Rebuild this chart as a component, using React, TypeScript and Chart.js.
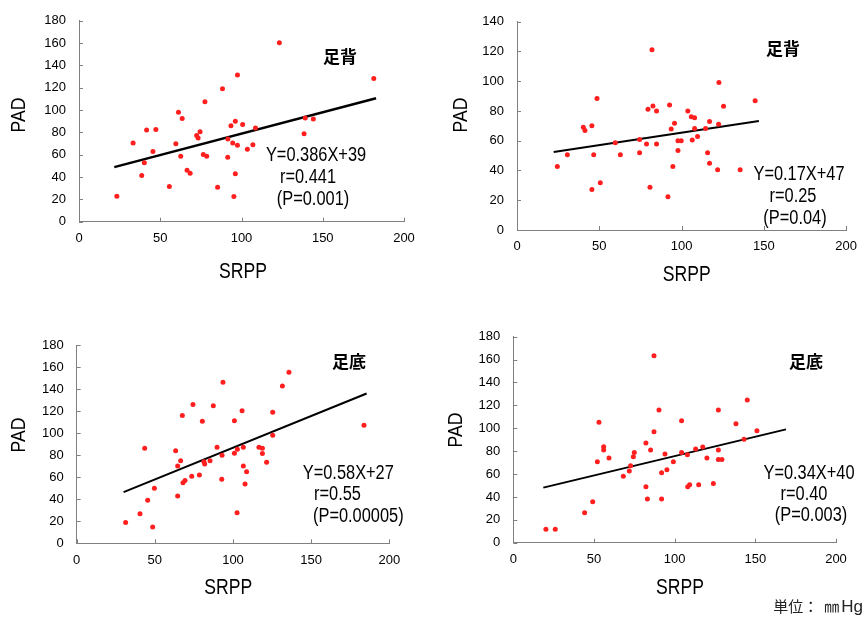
import React, { useEffect, useRef } from "react";
import { Chart, registerables } from "chart.js";
Chart.register(...registerables);

// ---------- data ----------
const xMin = 0;
const xMax = 200;
const xStep = 50;
const yStep = 20;

// Panel 1: 足背 (top-left)
const p1X = [23.3, 33.3, 38.6, 40.2, 41.6, 47.3, 45.5, 55.6, 59.6, 61.2, 63.5, 62.6, 66.5, 68.4, 72.4, 73.3, 74.5, 77.5, 76.5, 78.6, 85.3, 88.3, 91.6, 91.5, 93.5, 94.6, 95.3, 96.2, 96.2, 97.5, 97.5, 100.7, 103.6, 107, 108.6, 123.3, 138.5, 139.2, 144.2, 181.4];
const p1Y = [22.7, 70.6, 41.5, 52.8, 82.2, 82.7, 62.9, 31.6, 69.8, 98, 92.4, 58.6, 46, 43.3, 77.3, 75, 80.7, 107.4, 60.1, 58.6, 30.8, 119.2, 74, 57.8, 86, 70.6, 22.6, 89.9, 42.9, 131.5, 68.5, 87.1, 64.9, 69, 84, 160.3, 78.8, 92.8, 92.1, 128.3];
const p1FitX = [21.7, 182.8];
const p1FitY = [48.9, 110.6];

// Panel 2: 足背 (top-right)
const p2X = [24.5, 30.6, 40.3, 41.3, 45.5, 45.5, 46.6, 48.6, 50.6, 59.7, 62.8, 74.5, 74.5, 78.7, 79.6, 80.8, 82, 82.6, 84.8, 84.8, 91.7, 92.7, 93.7, 94.7, 95.7, 97.8, 97.8, 99.8, 103.8, 105.9, 107.9, 106.5, 107.9, 109.7, 114.6, 115.8, 117, 117, 121.9, 122.5, 122.7, 125.5, 135.6, 144.7];
const p2Y = [42.6, 50.6, 69, 66.8, 70.1, 27.3, 50.6, 88.3, 31.8, 58.7, 50.6, 52, 60.9, 57.8, 81.1, 28.7, 121.2, 83.3, 80, 57.8, 22.4, 84, 67.9, 42.6, 71.7, 60, 53.5, 60, 80, 76.2, 75.5, 60.5, 68.3, 62.9, 68.3, 52, 73, 44.8, 40.5, 71, 99.2, 83.1, 40.5, 86.9];
const p2FitX = [22.3, 147];
const p2FitY = [52.4, 73.2];

// Panel 3: 足底 (bottom-left)
const p3X = [31.3, 40.5, 43.5, 45.4, 48.6, 49.7, 63.3, 64.6, 64.6, 66.5, 67.6, 68, 69.3, 73.6, 74.4, 78.5, 80.4, 81.4, 81.9, 85.3, 87.4, 89.8, 93, 92.8, 93.6, 100.9, 100.9, 102.6, 102.8, 105.8, 106.6, 106.6, 107.7, 108.7, 116.6, 118.8, 118.8, 121.5, 125.4, 125.4, 131.6, 135.8, 183.8];
const p3Y = [18.8, 26.9, 86.2, 39, 14.8, 49.9, 84.1, 70.2, 43, 75, 115.9, 55, 56.9, 60.8, 126.1, 62, 110.7, 74.1, 72, 75, 124.9, 87.1, 79.9, 58.1, 146.1, 81.7, 111.3, 27.8, 85.3, 120.4, 87.1, 70.2, 53.8, 65, 87.1, 86.2, 81.4, 73.5, 118.9, 98, 142.8, 155.2, 107.1];
const p3FitX = [30, 185.5];
const p3FitY = [46.5, 136];

// Panel 4: 足底 (bottom-right)
const p4X = [20.2, 26, 44.2, 49.2, 52.1, 53.1, 56, 56, 59.3, 68.2, 71.9, 72.7, 74.4, 75, 82.2, 82.2, 83.1, 85.1, 87.2, 87.2, 90.3, 91.9, 91.9, 94, 95.2, 99.2, 104.3, 104.3, 107.9, 108.1, 109.3, 113, 114.9, 117.4, 120, 124, 127.1, 127.1, 127.1, 129.3, 138, 143, 145, 151];
const p4Y = [11.7, 11.7, 26.2, 35.8, 70.8, 105.2, 83.9, 81, 74, 58, 62.6, 67.3, 75.2, 78.9, 87.1, 48.9, 38.2, 81, 163.4, 97, 115.9, 61.2, 38.2, 77.5, 63.8, 70.8, 106.6, 78.9, 76.9, 48.9, 50.7, 81.9, 50.7, 83.6, 74, 51.8, 115.9, 81, 72.8, 72.8, 104, 90.3, 124.7, 97.9];
const p4FitX = [18.6, 169];
const p4FitY = [48.1, 99];

const labelTop = "足背";
const labelBottom = "足底";
const xTitle = "SRPP";
const yTitle = "PAD";
const eq1 = ["Y=0.386X+39", "r=0.441", "(P=0.001)"];
const eq2 = ["Y=0.17X+47", "r=0.25", "(P=0.04)"];
const eq3 = ["Y=0.58X+27", "r=0.55", "(P=0.00005)"];
const eq4 = ["Y=0.34X+40", "r=0.40", "(P=0.003)"];
const unitLead = "単位：";
const unitTail = "㎜Hg";

// ---------- styling ----------
const SANS = '"Liberation Sans", Arial, sans-serif';
const CJK = '"Noto Sans CJK JP", "Noto Sans CJK SC", sans-serif';
const AXIS_GRAY = "#808080";
const POINT_RED = "#ff1f1f";

type TextItem = { text: string; x: number; y: number; font: string; rotate?: boolean; sx?: number };

type PanelCfg = {
  rx: number; ry: number; rw: number; rh: number;
  L: number; T: number; R: number; B: number;
  yMax: number;
  xs: number[]; ys: number[];
  fitX: number[]; fitY: number[];
  lw: number;
  label: string; labelPos: [number, number];
  eq: string[]; eqPos: [number, number][];
  yTitlePos: [number, number];
  xTitlePos: [number, number];
};

const panels: PanelCfg[] = [
  {
    rx: 0, ry: 0, rw: 430, rh: 300,
    L: 79, T: 19.5, R: 404, B: 221.7,
    yMax: 180, xs: p1X, ys: p1Y, fitX: p1FitX, fitY: p1FitY, lw: 2.5,
    label: labelTop, labelPos: [340, 57],
    eq: eq1, eqPos: [[316, 156], [308, 178], [313, 199.5]],
    yTitlePos: [19, 115], xTitlePos: [243, 272],
  },
  {
    rx: 430, ry: 0, rw: 436, rh: 300,
    L: 517, T: 21.7, R: 847, B: 230,
    yMax: 140, xs: p2X, ys: p2Y, fitX: p2FitX, fitY: p2FitY, lw: 2,
    label: labelTop, labelPos: [783, 49],
    eq: eq2, eqPos: [[799, 175], [793, 196.7], [795, 218.3]],
    yTitlePos: [461.7, 115], xTitlePos: [686.7, 275],
  },
  {
    rx: 0, ry: 300, rw: 430, rh: 317,
    L: 76.7, T: 345, R: 389.3, B: 543.3,
    yMax: 180, xs: p3X, ys: p3Y, fitX: p3FitX, fitY: p3FitY, lw: 2,
    label: labelBottom, labelPos: [349, 361.7],
    eq: eq3, eqPos: [[348.3, 473.3], [337.5, 495], [358.3, 516.7]],
    yTitlePos: [19, 435], xTitlePos: [228.3, 588.3],
  },
  {
    rx: 430, ry: 300, rw: 436, rh: 317,
    L: 513.3, T: 336.7, R: 836, B: 542.7,
    yMax: 180, xs: p4X, ys: p4Y, fitX: p4FitX, fitY: p4FitY, lw: 2,
    label: labelBottom, labelPos: [806, 361.7],
    eq: eq4, eqPos: [[809, 474], [804, 495], [811, 516]],
    yTitlePos: [455.8, 430], xTitlePos: [680, 588.3],
  },
];

const inwardTicks = {
  id: "inwardTicks",
  afterDraw(chart: any) {
    const { ctx, chartArea } = chart;
    const xs = chart.scales.x;
    const ys = chart.scales.y;
    ctx.save();
    ctx.strokeStyle = AXIS_GRAY;
    ctx.lineWidth = 1;
    ctx.beginPath();
    for (const t of xs.ticks) {
      const px = Math.round(xs.getPixelForValue(t.value)) + 0.5;
      ctx.moveTo(px, chartArea.bottom);
      ctx.lineTo(px, chartArea.bottom - 4);
    }
    for (const t of ys.ticks) {
      const py = Math.round(ys.getPixelForValue(t.value)) + 0.5;
      ctx.moveTo(chartArea.left, py);
      ctx.lineTo(chartArea.left + 4, py);
    }
    ctx.stroke();
    ctx.restore();
  },
};

function makeTextPlugin(items: TextItem[]) {
  return {
    id: "panelText",
    afterDraw(chart: any) {
      const ctx = chart.ctx;
      for (const t of items) {
        ctx.save();
        ctx.font = t.font;
        ctx.fillStyle = "#000";
        ctx.textAlign = "center";
        ctx.textBaseline = "middle";
        ctx.translate(t.x, t.y);
        if (t.rotate) ctx.rotate(-Math.PI / 2);
        if (t.sx) ctx.scale(t.sx, 1);
        ctx.fillText(t.text, 0, 0);
        ctx.restore();
      }
    },
  };
}

function Panel({ cfg }: { cfg: PanelCfg }) {
  const ref = useRef<HTMLCanvasElement>(null);
  useEffect(() => {
    const c = ref.current;
    if (!c) return;
    const { rx, ry, rw, rh, L, T, R, B } = cfg;
    const items: TextItem[] = [
      { text: yTitle, x: cfg.yTitlePos[0] - rx, y: cfg.yTitlePos[1] - ry, font: `21px ${SANS}`, rotate: true, sx: 0.84 },
      { text: xTitle, x: cfg.xTitlePos[0] - rx, y: cfg.xTitlePos[1] - ry, font: `22px ${SANS}`, sx: 0.8 },
      { text: cfg.label, x: cfg.labelPos[0] - rx, y: cfg.labelPos[1] - ry, font: `bold 17px ${CJK}` },
      ...cfg.eq.map((s, i) => ({ text: s, x: cfg.eqPos[i][0] - rx, y: cfg.eqPos[i][1] - ry, font: `19.5px ${SANS}`, sx: 0.84 })),
    ];
    const chart = new Chart(c, {
      type: "scatter",
      data: {
        datasets: [
          {
            data: cfg.xs.map((x, i) => ({ x, y: cfg.ys[i] })),
            backgroundColor: POINT_RED,
            borderWidth: 0,
            pointRadius: 2.5,
            pointStyle: "circle",
            order: 0,
          },
          {
            data: cfg.fitX.map((x, i) => ({ x, y: cfg.fitY[i] })),
            showLine: true,
            borderColor: "#000",
            borderWidth: cfg.lw,
            pointRadius: 0,
            fill: false,
            order: 1,
          },
        ],
      },
      options: {
        responsive: false,
        animation: false,
        events: [],
        layout: { padding: { left: 0, top: T - ry, right: rx + rw - R, bottom: 0 } },
        plugins: { legend: { display: false }, tooltip: { enabled: false } },
        scales: {
          x: {
            type: "linear",
            min: xMin,
            max: xMax,
            ticks: { stepSize: xStep, color: "#000", padding: 9, font: { family: SANS, size: 13 } },
            grid: { display: false, drawTicks: false },
            border: { display: true, color: AXIS_GRAY, width: 1 },
            afterFit: (s: any) => { s.height = ry + rh - B; },
          },
          y: {
            type: "linear",
            min: 0,
            max: cfg.yMax,
            ticks: { stepSize: yStep, color: "#000", padding: 13, font: { family: SANS, size: 13 } },
            grid: { display: false, drawTicks: false },
            border: { display: true, color: AXIS_GRAY, width: 1 },
            afterFit: (s: any) => { s.width = L - rx; },
          },
        },
      } as any,
      plugins: [inwardTicks, makeTextPlugin(items)],
    });
    return () => chart.destroy();
  }, [cfg]);
  return (
    <canvas
      ref={ref}
      width={cfg.rw}
      height={cfg.rh}
      style={{ position: "absolute", left: cfg.rx, top: cfg.ry, width: cfg.rw, height: cfg.rh }}
    />
  );
}

export default function App() {
  return (
    <div style={{ position: "fixed", left: 0, top: 0, width: 866, height: 617, background: "#fff", overflow: "hidden" }}>
      {panels.map((p, i) => (
        <Panel key={i} cfg={p} />
      ))}
      <div
        style={{
          position: "absolute",
          right: 3,
          top: 595,
          fontFamily: CJK,
          fontSize: 15,
          lineHeight: "22px",
          color: "#222",
          whiteSpace: "nowrap",
        }}
      >
        <span>{unitLead}</span>
        <span style={{ marginLeft: 6 }}>{unitTail.slice(0, 1)}</span>
        <span style={{ fontFamily: SANS, fontSize: 17, marginLeft: 2 }}>{unitTail.slice(1)}</span>
      </div>
    </div>
  );
}
